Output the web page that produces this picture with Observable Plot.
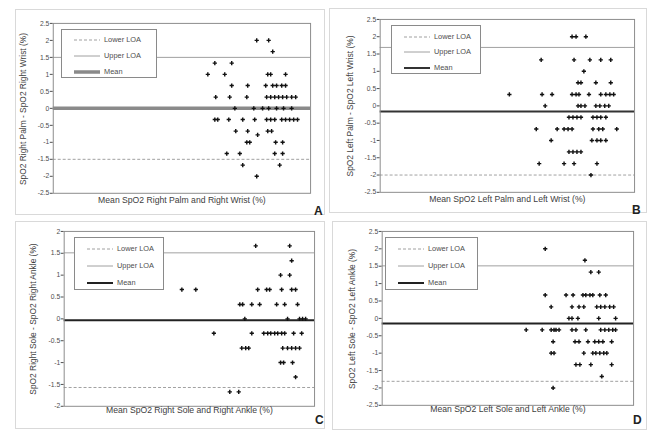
<!DOCTYPE html>
<html><head><meta charset="utf-8">
<script src="https://cdn.jsdelivr.net/npm/d3@7"></script>
<script src="https://cdn.jsdelivr.net/npm/@observablehq/plot@0.6"></script>
<style>
body{margin:0;background:#fff;font-family:"Liberation Sans",Arial,sans-serif;}
#root{position:relative;width:650px;height:432px;overflow:hidden;background:#fff;}
.panel{position:absolute;border:1px solid #d9d9d9;box-sizing:border-box;}
.panel > svg{position:absolute;left:-1px;top:-1px;}
.legend{position:absolute;border:1px solid #8a8a8a;background:#fff;box-sizing:border-box;}
.lrow{position:absolute;left:0;right:0;height:10px;font-size:7.4px;color:#4d4d4d;line-height:10px;}
.lrow svg{position:absolute;left:12px;top:0;}
.lrow span{position:absolute;left:42px;top:0;white-space:nowrap;}
.letter{position:absolute;font-weight:bold;font-size:12px;color:#222;}
.ytitle{position:absolute;white-space:nowrap;font-size:8.4px;color:#404040;line-height:9px;transform:translate(-50%,-50%) rotate(-90deg);}
</style></head>
<body><div id="root"></div>
<script>
// ---- data ----
const panelLetters = ["A", "B", "C", "D"];
const yTitles = [
  "SpO2 Right Palm - SpO2 Right Wrist (%)",
  "SpO2 Left Palm - SpO2 Left Wrist (%)",
  "SpO2 Right Sole - SpO2 Right Ankle (%)",
  "SpO2 Left Sole - SpO2 Left Ankle (%)"
];
const xTitles = [
  "Mean SpO2 Right Palm and Right Wrist (%)",
  "Mean SpO2 Left Palm and Left Wrist (%)",
  "Mean SpO2 Right Sole and Right Ankle (%)",
  "Mean SpO2 Left Sole and Left Ankle (%)"
];
const legendLabels = ["Lower LOA", "Upper LOA", "Mean"];
const meanDiff = [0, -0.16, -0.03, -0.15];
const upperLOA = [1.5, 1.69, 1.51, 1.51];
const lowerLOA = [-1.5, -2.0, -1.57, -1.81];
const yTicksWide = [-2.5, -2, -1.5, -1, -0.5, 0, 0.5, 1, 1.5, 2, 2.5];
const yTicksNarrow = [-2, -1.5, -1, -0.5, 0, 0.5, 1, 1.5, 2];

// [mean SpO2, difference]
const pointsA = [
  [97.07,2],[97.72,2],
  [97.94,1.67],
  [94.79,1.33],[95.71,1.33],
  [94.41,1],[95.33,1],[97.67,1],[97.83,1],[98.64,1],
  [95.71,0.67],[96.58,0.67],[97.56,0.67],[97.94,0.67],[98.15,0.67],[98.43,0.67],[98.64,0.67],
  [94.84,0.33],[95.60,0.33],[96.53,0.33],[97.61,0.33],[97.83,0.33],[98.05,0.33],[98.26,0.33],[98.48,0.33],[98.70,0.33],[98.97,0.33],[99.19,0.33],
  [95.88,0],[96.91,0],[97.39,0],[97.72,0],[98.15,0],[98.53,0],[98.97,0],
  [94.79,-0.33],[94.95,-0.33],[95.55,-0.33],[96.31,-0.33],[96.96,-0.33],[97.61,-0.33],[97.83,-0.33],[98.05,-0.33],[98.43,-0.33],[98.64,-0.33],[98.86,-0.33],[99.08,-0.33],[99.29,-0.33],
  [95.93,-0.67],[96.58,-0.67],[97.12,-0.78],[97.67,-0.67],[97.88,-0.67],
  [96.53,-1],[96.69,-1],[98.10,-1],[98.48,-1],
  [95.44,-1.33],[96.15,-1.33],[98.05,-1.33],[98.48,-1.33],
  [96.31,-1.67],[98.32,-1.67],
  [97.07,-2]
];
const pointsB = [
  [96.56,2],[96.78,2],[97.32,2],
  [94.86,1.33],[96.67,1.33],[97.54,1.33],[98.14,1.33],[98.69,1.33],
  [97.21,1],
  [96.89,0.67],[97.05,0.67],[97.87,0.67],[98.69,0.67],
  [93.11,0.33],[94.91,0.33],[95.46,0.33],[96.56,0.33],[96.78,0.33],[96.94,0.33],[97.49,0.33],[98.14,0.33],[98.42,0.33],[98.64,0.33],[98.85,0.33],
  [95.08,0],[96.89,0],[97.05,0],[97.27,0],[97.87,0],[98.09,0],[98.36,0],[98.58,0],
  [96.39,-0.33],[96.61,-0.33],[96.83,-0.33],[97.05,-0.33],[97.71,-0.33],[97.93,-0.33],[98.14,-0.33],[98.42,-0.33],
  [94.59,-0.67],[95.74,-0.67],[96.12,-0.67],[96.34,-0.67],[96.56,-0.67],[97.71,-0.67],[98.03,-0.67],[98.25,-0.67],[99.02,-0.67],
  [95.41,-1],[97.65,-1],[97.93,-1],[98.14,-1],[98.42,-1],
  [96.39,-1.33],[96.61,-1.33],[96.83,-1.33],[97.05,-1.33],
  [94.75,-1.67],[96.12,-1.67],[96.67,-1.67],[97.93,-1.67],
  [97.60,-2]
];
const pointsC = [
  [96.71,1.67],[98.61,1.67],
  [98.72,1.33],
  [98.10,1],[98.61,1],
  [92.58,0.67],[93.36,0.67],[96.82,0.67],[97.32,0.67],[97.49,0.67],[98.16,0.67],[98.72,0.67],[98.94,0.67],
  [95.82,0.33],[95.98,0.33],[96.49,0.33],[96.93,0.33],[97.88,0.33],[98.33,0.33],[99.05,0.33],
  [96.10,0],[98.49,0],[99.16,0],[99.33,0],[99.50,0],
  [94.37,-0.33],[96.49,-0.33],[97.16,-0.33],[97.38,-0.33],[97.55,-0.33],[97.77,-0.33],[97.94,-0.33],[98.16,-0.33],[98.33,-0.33],[98.83,-0.33],[99.28,-0.33],
  [95.93,-0.67],[96.15,-0.67],[96.32,-0.67],[98.22,-0.67],[98.49,-0.67],[98.72,-0.67],[98.94,-0.67],[99.16,-0.67],
  [98.10,-1],[98.27,-1],[98.77,-1],
  [98.94,-1.33],
  [95.26,-1.67],[95.76,-1.67]
];
const pointsD = [
  [95.08,2],
  [97.29,1.67],
  [97.62,1.33],[98.06,1.33],
  [95.08,0.67],[96.24,0.67],[96.63,0.67],[97.18,0.67],[97.34,0.67],[97.57,0.67],[97.73,0.67],[98.12,0.67],[98.45,0.67],
  [95.41,0.33],[96.57,0.33],[96.96,0.33],[97.23,0.33],[97.95,0.33],[98.17,0.33],[98.40,0.33],[98.67,0.33],[98.89,0.33],
  [96.40,0],[96.57,0],[96.90,0],[98.06,0],[99.00,0],
  [94.02,-0.33],[94.91,-0.33],[95.41,-0.33],[95.57,-0.33],[95.68,-0.33],[95.85,-0.33],[96.57,-0.33],[96.79,-0.33],[97.34,-0.33],[98.17,-0.33],[98.40,-0.33],[98.62,-0.33],[98.84,-0.33],[99.00,-0.33],
  [95.52,-0.67],[96.74,-0.67],[96.96,-0.67],[97.46,-0.67],[97.84,-0.67],[98.06,-0.67],[98.29,-0.67],[98.78,-0.67],
  [95.41,-1],[95.57,-1],[97.23,-1],[97.73,-1],[97.90,-1],[98.12,-1],[98.34,-1],[98.51,-1],
  [96.79,-1.33],[97.01,-1.33],[97.62,-1.33],[98.78,-1.33],
  [98.23,-1.67],
  [95.52,-2]
];
const allPoints = [pointsA, pointsB, pointsC, pointsD];
const yTickSets = [yTicksWide, yTicksWide, yTicksNarrow, yTicksWide];
const xDomain = [86, 100];

// ---- layout / style ----
const layout = [
  {left:15, top:9, w:310, h:206, ml:38, mr:13, mt:14, mb:21, leg:[45,19,96,49], rows:[3,19,35], dy:10, dx:-30, mColor:"#8a8a8a", mW:3.5, let:[298,194]},
  {left:329, top:8, w:318, h:205, ml:51, mr:11, mt:11, mb:20, leg:[61,16,90,49], rows:[4,19,35], dy:10, dx:-30, mColor:"#333", mW:2, let:[302,194]},
  {left:15, top:221, w:310, h:208, ml:49, mr:9, mt:10, mb:22, leg:[58,15,90,53], rows:[4,21,38], dy:7, dx:-31, mColor:"#222", mW:2, let:[299,191]},
  {left:332, top:221, w:315, h:209, ml:50, mr:12, mt:10, mb:24, leg:[52,15,93,53], rows:[4,21,38], dy:7, dx:-30, mColor:"#222", mW:2, let:[300,191]}
];

const root = document.getElementById("root");
layout.forEach((L, i) => {
  const yt = yTickSets[i];
  const div = document.createElement("div");
  div.className = "panel";
  Object.assign(div.style, {left:L.left+"px", top:L.top+"px", width:L.w+"px", height:L.h+"px"});
  const plot = Plot.plot({
    width: L.w, height: L.h,
    marginLeft: L.ml, marginRight: L.mr, marginTop: L.mt, marginBottom: L.mb,
    style: {background:"transparent", fontFamily:"Liberation Sans, Arial, sans-serif", fontSize:"6.8px", color:"#4d4d4d", overflow:"visible"},
    x: {domain: xDomain, axis: null},
    y: {domain: [yt[0], yt[yt.length-1]], ticks: yt, tickFormat: d => String(d), tickSize: 3, tickPadding: 1, label: null},
    marks: [
      Plot.ruleY([lowerLOA[i]], {stroke:"#a0a0a0", strokeWidth:1, strokeDasharray:"3,2"}),
      Plot.ruleY([upperLOA[i]], {stroke:"#a0a0a0", strokeWidth:1}),
      Plot.ruleY([meanDiff[i]], {stroke:L.mColor, strokeWidth:L.mW}),
      Plot.dot(allPoints[i], {x: d => d[0], y: d => d[1], symbol:"cross", r:1.8, fill:"#111", stroke:"none"}),
      Plot.frame({stroke:"#8c8c8c"}),
      Plot.text([xTitles[i]], {frameAnchor:"bottom", dy:L.dy, fontSize:8.7, fill:"#404040"})
    ]
  });
  div.appendChild(plot);

  // y title (rotated)
  const yt1 = document.createElement("div");
  yt1.className = "ytitle";
  yt1.textContent = yTitles[i];
  Object.assign(yt1.style, {left:(L.ml + L.dx - 1)+"px", top:(L.mt + (L.h - L.mt - L.mb)/2 - 1)+"px"});
  div.appendChild(yt1);

  // legend
  const leg = document.createElement("div");
  leg.className = "legend";
  Object.assign(leg.style, {left:L.leg[0]+"px", top:L.leg[1]+"px", width:L.leg[2]+"px", height:L.leg[3]+"px"});
  const samples = [
    `<line x1="0" x2="26" y1="5" y2="5" stroke="#a0a0a0" stroke-width="1" stroke-dasharray="3,2"/>`,
    `<line x1="0" x2="26" y1="5" y2="5" stroke="#a0a0a0" stroke-width="1"/>`,
    `<line x1="0" x2="26" y1="5" y2="5" stroke="${L.mColor}" stroke-width="${L.mW}"/>`
  ];
  legendLabels.forEach((lab, k) => {
    const row = document.createElement("div");
    row.className = "lrow";
    row.style.top = (L.rows[k] + 2) + "px";
    row.innerHTML = `<svg width="28" height="10">${samples[k]}</svg><span>${lab}</span>`;
    leg.appendChild(row);
  });
  div.appendChild(leg);

  const letter = document.createElement("div");
  letter.className = "letter";
  letter.textContent = panelLetters[i];
  Object.assign(letter.style, {left:L.let[0]+"px", top:L.let[1]+"px"});
  div.appendChild(letter);

  root.appendChild(div);
});
</script>
</body></html>
